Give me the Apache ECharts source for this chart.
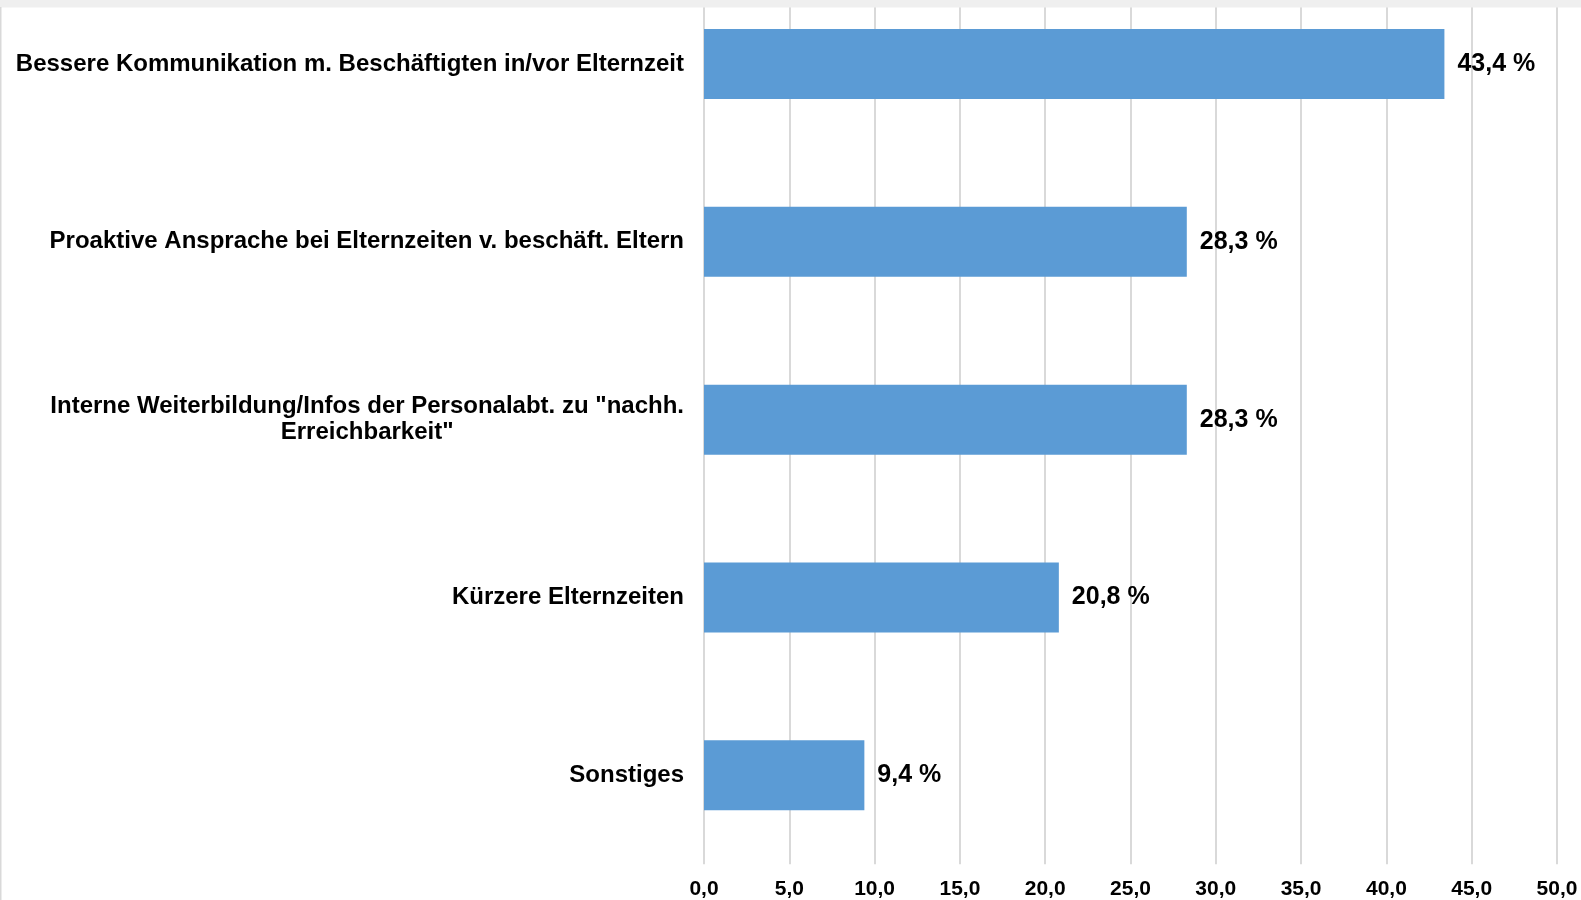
<!DOCTYPE html>
<html>
<head>
<meta charset="utf-8">
<script src="https://cdn.jsdelivr.net/npm/echarts@6/dist/echarts.min.js"></script>
<style>
html,body{margin:0;padding:0;background:#fff;overflow:hidden;width:1581px;height:900px;position:relative;}
#c{position:absolute;left:0;top:-25px;width:1581px;height:925px;}
</style>
</head>
<body>
<div id="c"></div>
<script>
const categories = [
  'Bessere Kommunikation m. Beschäftigten in/vor Elternzeit',
  'Proaktive Ansprache bei Elternzeiten v. beschäft. Eltern',
  'Interne Weiterbildung/Infos der Personalabt. zu "nachh.\nErreichbarkeit"',
  'Kürzere Elternzeiten',
  'Sonstiges'
];
const values = [43.4, 28.3, 28.3, 20.8, 9.4];
const xTicks = { min: 0, max: 50, interval: 5 };

const chart = echarts.init(document.getElementById('c'), null, { renderer: 'canvas' });
const FONT = '"Liberation Sans", Arial, sans-serif';
chart.setOption({
  animation: false,
  backgroundColor: '#ffffff',
  grid: { left: 704, right: 24, top: 0, bottom: 35.7, containLabel: false },
  xAxis: {
    type: 'value',
    min: xTicks.min, max: xTicks.max, interval: xTicks.interval,
    axisLine: { show: false },
    axisTick: { show: false },
    splitLine: { show: true, lineStyle: { color: '#d9d9d9', width: 2 } },
    axisLabel: {
      margin: 14,
      color: '#000',
      fontFamily: FONT,
      fontWeight: 'bold',
      fontSize: 21,
      formatter: v => v.toFixed(1).replace('.', ',')
    }
  },
  yAxis: {
    type: 'category',
    data: categories,
    inverse: true,
    axisLine: { show: false },
    axisTick: { show: false },
    splitLine: { show: false },
    axisLabel: {
      margin: 20,
      align: 'right',
      formatter: v => v.split('\n').map(l => '{c|' + l + '}').join('\n'),
      rich: {
        c: {
          align: 'center',
          color: '#000',
          fontFamily: FONT,
          fontWeight: 'bold',
          fontSize: 24,
          lineHeight: 26
        }
      }
    }
  },
  series: [{
    type: 'bar',
    data: values,
    barWidth: 70,
    itemStyle: { color: '#5b9bd5' },
    label: {
      show: true,
      position: 'right',
      distance: 13,
      color: '#000',
      fontFamily: FONT,
      fontWeight: 'bold',
      fontSize: 25,
      formatter: p => p.value.toFixed(1).replace('.', ',') + ' %'
    }
  }],
  graphic: [
    { type: 'rect', left: 0, top: 0, z: 100, shape: { width: 1581, height: 32.5 }, style: { fill: '#efefef' } },
    { type: 'rect', left: 0, top: 32, z: 100, shape: { width: 1.5, height: 893 }, style: { fill: '#d9d9d9' } }
  ]
});
</script>
</body>
</html>
